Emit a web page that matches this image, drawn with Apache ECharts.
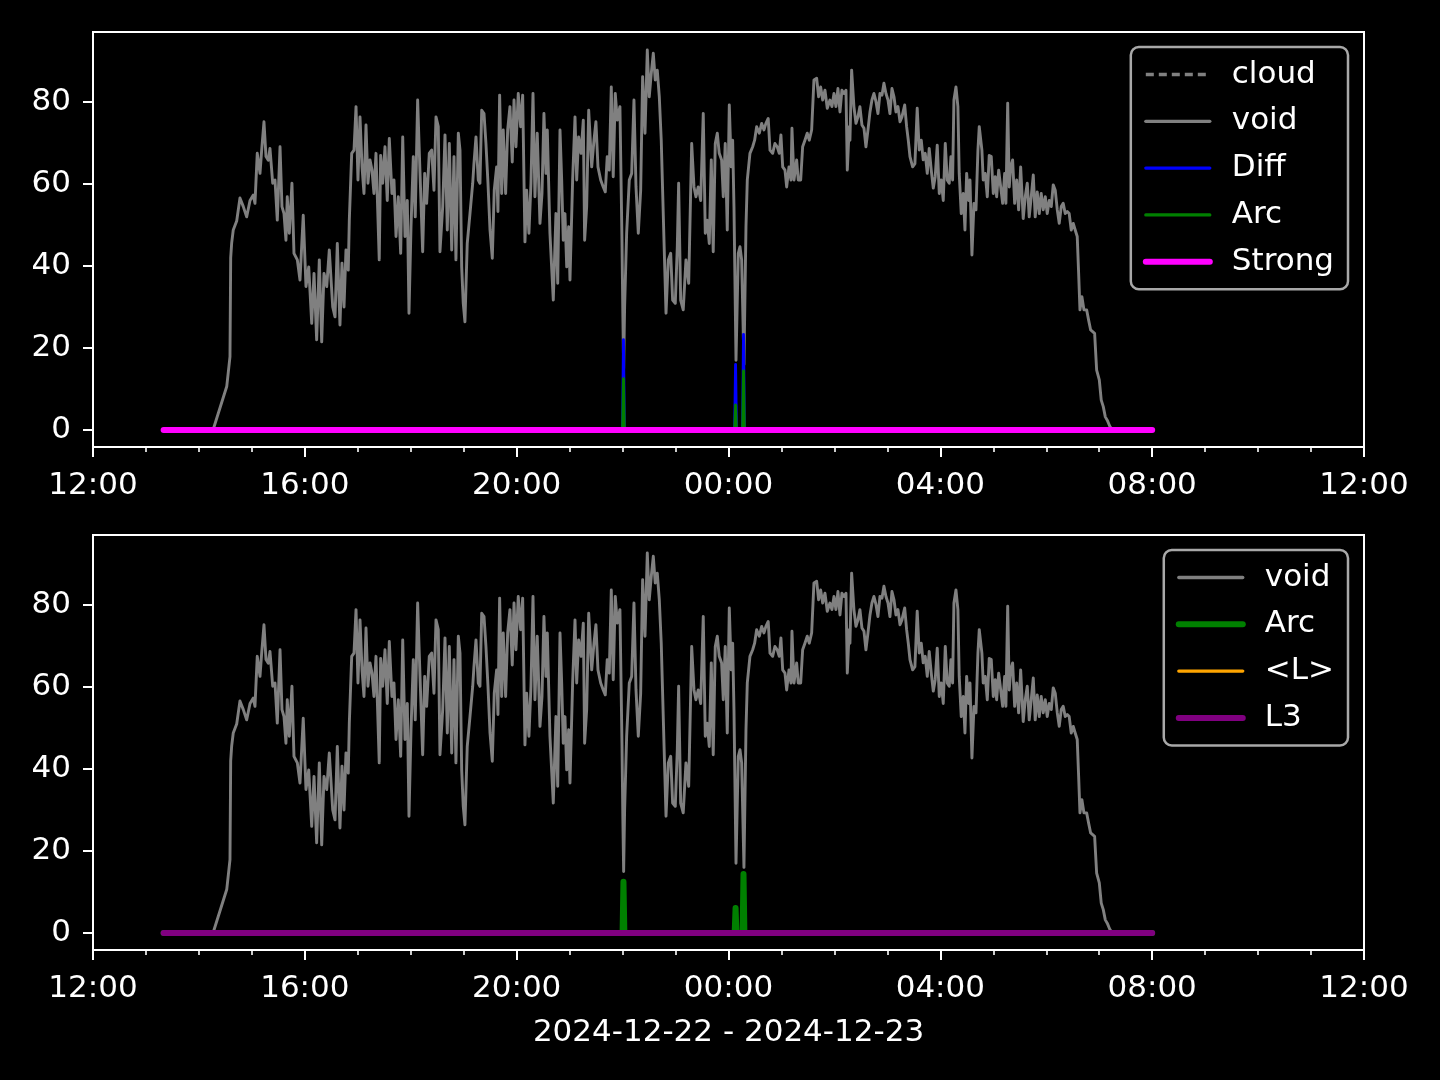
<!DOCTYPE html>
<html><head><meta charset="utf-8">
<script src="https://cdn.jsdelivr.net/npm/echarts@6.0.0/dist/echarts.min.js"></script>
<style>html,body{margin:0;padding:0;background:#000;} #c{width:1440px;height:1080px;}</style>
</head><body><div id="c"></div>
<script>
// x values are minutes after 2024-12-22 12:00
const dateLabel = '2024-12-22 - 2024-12-23';
const yTicks = [0, 20, 40, 60, 80];

const voidTimes = [80,136,151.5,155.2,156.0,157.1,158.9,162.8,166.5,170.3,174.1,177.9,181.6,183.5,186.1,189.2,191.1,193.7,196.0,198.6,200.5,203.6,206.2,208.8,211.9,214.1,216.4,218.6,220.1,222.4,225.4,227.7,231.5,234.5,238.2,241.3,244.4,247.8,250.4,253.4,256.4,259.1,261.7,264.8,267.7,
271.6,274.2,276.8,279.8,282.1,284.4,286.6,289.2,290.4,293.1,295.7,298.0,300.2,302.5,304.8,307.0,309.3,311.5,313.8,316.1,318.3,320.6,324.3,325.9,328.2,330.8,333.4,335.7,338.7,341.0,343.3,345.9,348.6,350.9,353.5,356.1,358.0,360.3,362.9,365.1,367.8,370.5,373.5,375.8,378.0,381.0,383.7,386.3,388.6,391.2,393.1,396.2,398.8,401.4,403.7,406.4,409.0,411.2,413.9,
415.8,417.7,419.5,421.4,424.0,427.1,430.2,431.6,433.9,436.5,438.4,440.4,443.0,445.2,447.5,449.8,452.4,454.6,457.3,458.8,460.7,463.0,464.8,467.5,469.8,472.4,475.0,477.0,479.2,481.8,484.5,486.8,489.4,491.3,493.9,496.2,498.5,500.7,503.3,506.4,508.7,510.9,513.2,514.7,517.7,521.5,524.5,526.5,529.1,531.0,532.8,534.7,536.7,538.9,540.4,543.4,546.1,548.0,550.2,552.9,555.5,557.0,559.3,561.6,
565.0,567.6,569.8,572.1,575.2,578.1,580.4,582.6,584.9,587.2,589.4,591.7,594.0,597.0,599.3,600.3,601.2,602.3,604.6,607.6,610.3,612.9,615.2,617.8,620.5,622.7,625.4,628.0,630.2,632.5,634.8,637.0,639.3,641.6,643.8,646.9,649.2,651.8,654.5,656.7,659.7,662.0,663.5,665.8,668.7,671.8,674.9,678.3,680.9,683.1,685.7,688.5,691.4,693.7,695.9,698.2,700.5,702.7,705.0,707.3,709.5,
712.2,714.1,716.3,718.6,720.9,723.1,724.7,726.2,728.5,731.1,733.0,734.9,737.5,739.8,741.3,744.3,747.4,749.6,751.9,754.9,757.6,760.2,762.4,765.0,767.0,770.0,772.6,775.2,777.5,779.4,781.4,784.0,785.9,788.5,790.8,791.9,794.2,797.2,799.0,801.8,804.0,806.6,809.2,811.5,814.2,816.8,819.9,822.1,824.4,826.7,829.3,831.9,834.9,837.2,839.5,841.7,844.0,846.3,848.5,850.8,853.1,854.6,856.8,
857.6,859.5,862.1,864.4,866.7,868.9,871.2,873.5,875.7,878.0,880.3,882.5,884.8,887.1,889.3,891.6,893.9,896.1,898.4,900.7,902.9,905.2,907.5,909.7,912.0,914.3,916.5,919.6,921.8,923.7,925.6,928.6,931.2,933.8,936.1,938.4,940.6,942.9,945.2,947.4,949.7,952.0,954.2,956.5,958.8,961.0,963.3,965.6,967.8,970.1,972.0,973.9,975.4,977.7,979.9,981.4,983.7,986.0,987.9,989.8,992.1,993.6,995.8,998.1,1000.4,1002.6,1004.1,
1007.1,1008.6,1010.9,1013.2,1015.4,1017.7,1020.0,1022.2,1023.8,1026.1,1028.3,1030.6,1032.9,1034.3,1036.3,1038.1,1039.7,1041.9,1044.2,1046.5,1048.7,1051.0,1053.9,1056.2,1058.5,1060.7,1063.0,1065.3,1067.5,1069.8,1072.1,1074.3,1076.6,1078.9,1081.1,1083.4,1085.7,1087.9,1090.2,1092.5,1094.7,1097.0,1099.2,1101.5,1103.8,1106.0,1108.3,1110.6,1112.8,1115.1,1116.7,1118.2,1120.4,1122.7,1125.8,1128.0,1130.3,1132.5,1134.8,1137.1,1140.1,1142.3,1144.6,1146.9,1149.1,1152.2,1155,1200];

const voidValues = [0,0,10.6,17.9,42,45.6,48.8,51,56.6,54.5,52,56,57.3,55.3,67.5,62.6,68.3,75.2,66.7,65.8,68.7,60.2,61,51.2,69.1,54.5,52.8,46.3,56.9,48,60.2,43.1,41.5,36.6,52.4,35,39.8,26,38.2,22,41.5,21.5,38.2,35,43.9,
30,27.6,45.5,25.6,40.7,30,43.9,39,51.2,67.5,68.3,78.9,61,76.4,64.2,57.7,74.4,60.2,65.9,63.4,57.7,67.5,41.5,67,60.2,69.1,56,71.1,57.7,61,47.2,56.9,43.1,71.5,47.2,56,28.5,49.6,66.7,52,80.5,62.6,43.5,62.6,55.3,67.5,68.3,58.5,76.4,74,43.5,54.5,72,48.8,69.9,43.9,66.7,41.5,72.4,
68.3,39.8,30.9,26.4,45.5,52.8,60.2,65,71.5,61,60.2,78,77.2,69.9,60.2,48.8,41.9,58.5,64.2,53.3,81.7,57.7,73.2,57.7,73.2,78.9,65.4,80.5,69.1,82.1,74,81.7,45.9,58.5,48,60.2,82.1,56.9,72.4,50.4,57.7,77.2,62.6,73.2,48,31.7,52.8,35.8,73.2,61,46.3,52.8,39.8,49.6,36.6,61,76.4,61,71.5,67.5,75.6,46.3,54.5,78,
64.2,70.7,75.2,64.2,61,59.3,58.1,66.7,63.4,83.7,61.8,82.1,75.6,78.9,46.3,28,15,30,48,61,62.6,80.5,59.3,48,58.5,86.2,72.4,92.7,81.3,87,91.9,85.4,87.8,81.3,70.7,46.3,28.5,41.5,43.1,31.7,30.9,44.7,60.2,31.7,29.3,41.5,35.8,69.9,59.3,56.9,59.3,56,77.2,48,51.2,45.5,65.9,43.5,69.9,72.4,67.5,
65.9,56.9,69.9,48.8,79.3,64.2,70.7,54.5,17,43.1,44.7,41.5,16,49.6,61,67.5,69.1,70.7,74,72.4,74.8,73.2,74.8,76,68.3,67.5,69.9,69.1,67.5,72,64.2,63.4,59.3,64.2,61,73.6,61,65.9,61,61,69.1,70.7,72.4,70.7,73.2,85.4,85.8,81.3,83.7,80.5,82.9,78.5,80.5,78.9,82.1,78.9,83.3,77.6,82.9,82.1,82.9,63.4,74,
70.7,87.8,78.9,74.8,76.4,78.9,74.4,73.6,69.1,73.2,77.6,80.5,82.1,80.1,77.2,82.1,81.7,84.6,82.1,80.5,77.2,83.3,81.3,77.6,78.9,75.2,76.4,79.3,74,70.7,66.7,64.2,65,78.5,68.3,70.7,65.9,67.5,62.6,68.7,63.4,59,61.8,69.5,57.7,61,56,69.9,61,60.2,66.7,61,80.5,83.7,78.9,62.6,52.8,57.7,48.8,62.6,56,61,42.7,55.3,53.7,68.3,74,
68.3,61,62.6,56.9,67,66.7,57.7,61.8,56.9,63.4,63.4,55.3,62.6,55.3,79.7,59.3,64.2,65.9,55.3,61,53.7,64.2,51.6,56.9,60.2,52,56.9,62.2,52,58.1,52.8,57.7,53.7,56.9,52.8,56,54.5,59.8,58.5,53.7,50.4,54.5,55.3,52.8,53.3,52.8,48.8,50.4,48.8,47.2,38.2,29.3,32.5,29.3,29.3,26.8,24.4,24.4,23.6,14.6,12.2,7.3,5.7,3.2,2.4,0.8,0,0];

const spikeTimes = [80,600,601,602,727,728,729,736,737,738,1200];
const diffValues = [0,0,22,0,0,16,0,0,23.3,0,0];
const arcValues  = [0,0,12.5,0,0,6.1,0,0,14.4,0,0];

const flatTimes = [80, 1200];
const strongValues = [0, 0];
const lMeanValues = [0, 0];
const l3Values = [0, 0];
const cloudValues = [];

const pairs = (ts, vs) => ts.map((t, i) => [t, vs[i]]);

const FONT = 'DejaVu Sans';
const FS = 31;
const THIN = 2.9, THICK = 6;
const GRAY = '#808080', BLUE = '#0000ff', GREEN = '#008000', MAGENTA = '#ff00ff', ORANGE = '#ffa500', PURPLE = '#800080';

function xAxisFor(gridIndex, withName) {
  const ax = {
    type: 'value', gridIndex, min: 0, max: 1440, interval: 240,
    axisLine: { show: false, onZero: false },
    axisTick: { show: true, length: 10, lineStyle: { color: '#fff', width: 2 } },
    minorTick: { show: true, splitNumber: 4, length: 5, lineStyle: { color: '#fff', width: 1.6 } },
    splitLine: { show: false }, minorSplitLine: { show: false },
    axisLabel: {
      color: '#fff', fontFamily: FONT, fontSize: FS, margin: 23,
      showMinLabel: true, showMaxLabel: true,
      formatter: v => {
        const tot = (12 * 60 + v) % 1440;
        const h = Math.floor(tot / 60), m = Math.round(tot % 60);
        return String(h).padStart(2, '0') + ':' + String(m).padStart(2, '0');
      }
    }
  };
  if (withName) {
    ax.name = dateLabel;
    ax.nameLocation = 'middle';
    ax.nameGap = 67;
    ax.nameTextStyle = { color: '#fff', fontFamily: FONT, fontSize: FS };
  }
  return ax;
}
function yAxisFor(gridIndex) {
  return {
    type: 'value', gridIndex, min: -4.15, max: 97.1,
    axisLine: { show: false, onZero: false },
    splitLine: { show: false },
    axisTick: { show: true, length: 10, customValues: yTicks, lineStyle: { color: '#fff', width: 2 } },
    axisLabel: { show: true, customValues: yTicks, color: '#fff', fontFamily: FONT, fontSize: FS, margin: 22, padding: [7, 0, 0, 0] }
  };
}
function lineSeries(name, data, color, width, xi, extra) {
  return Object.assign({
    name, type: 'line', xAxisIndex: xi, yAxisIndex: xi, data,
    symbol: 'none', showSymbol: false, smooth: false,
    lineStyle: { color, width, join: 'round', cap: 'round' },
    itemStyle: { color },
    emphasis: { disabled: true }
  }, extra || {});
}
function legendItem(name, color, width, type) {
  return { name, lineStyle: { color, width, type: type || 'solid', opacity: 1 }, itemStyle: { opacity: 0, borderWidth: 0 } };
}
function legendFor(top, items) {
  return {
    show: true, orient: 'vertical', right: 92, top,
    data: items,
    backgroundColor: '#000', borderColor: '#a8a8a8', borderWidth: 2.5, borderRadius: 8,
    padding: [12, 14, 12, 12],
    itemWidth: 64, itemHeight: 30, itemGap: 15.8,
    selectedMode: false,
    itemStyle: { opacity: 0, borderWidth: 0 },
    lineStyle: { width: 'inherit' },
    formatter: n => n.replace(/_b$/, ''),
    textStyle: { color: '#fff', fontFamily: FONT, fontSize: FS, padding: [0, 0, 0, 17] }
  };
}

const chart = echarts.init(document.getElementById('c'), null, { renderer: 'canvas' });
chart.setOption({
  backgroundColor: '#000',
  animation: false,
  grid: [
    { left: 93, top: 32, width: 1271, height: 415, show: true, borderColor: '#fff', borderWidth: 2, backgroundColor: '#000' },
    { left: 93, top: 535, width: 1271, height: 415, show: true, borderColor: '#fff', borderWidth: 2, backgroundColor: '#000' }
  ],
  xAxis: [xAxisFor(0, false), xAxisFor(1, true)],
  yAxis: [yAxisFor(0), yAxisFor(1)],
  legend: [
    legendFor(47, [
      legendItem('cloud', GRAY, 3.3, [8, 5]),
      legendItem('void', GRAY, 3.3),
      legendItem('Diff', BLUE, 3.3),
      legendItem('Arc', GREEN, 3.3),
      legendItem('Strong', MAGENTA, 6)
    ]),
    legendFor(550, [
      legendItem('void_b', GRAY, 3.3),
      legendItem('Arc_b', GREEN, 6),
      legendItem('<L>', ORANGE, 3.3),
      legendItem('L3', PURPLE, 6)
    ])
  ],
  series: [
    lineSeries('cloud', cloudValues, GRAY, THIN, 0, { lineStyle: { color: GRAY, width: THIN, type: [8, 5] } }),
    lineSeries('void', pairs(voidTimes, voidValues), GRAY, THIN, 0),
    lineSeries('Diff', pairs(spikeTimes, diffValues), BLUE, THIN, 0),
    lineSeries('Arc', pairs(spikeTimes, arcValues), GREEN, THIN, 0),
    lineSeries('Strong', pairs(flatTimes, strongValues), MAGENTA, THICK, 0),
    lineSeries('void_b', pairs(voidTimes, voidValues), GRAY, THIN, 1),
    lineSeries('Arc_b', pairs(spikeTimes, arcValues), GREEN, THICK, 1),
    lineSeries('<L>', pairs(flatTimes, lMeanValues), ORANGE, THIN, 1),
    lineSeries('L3', pairs(flatTimes, l3Values), PURPLE, THICK, 1)
  ]
});
</script></body></html>
